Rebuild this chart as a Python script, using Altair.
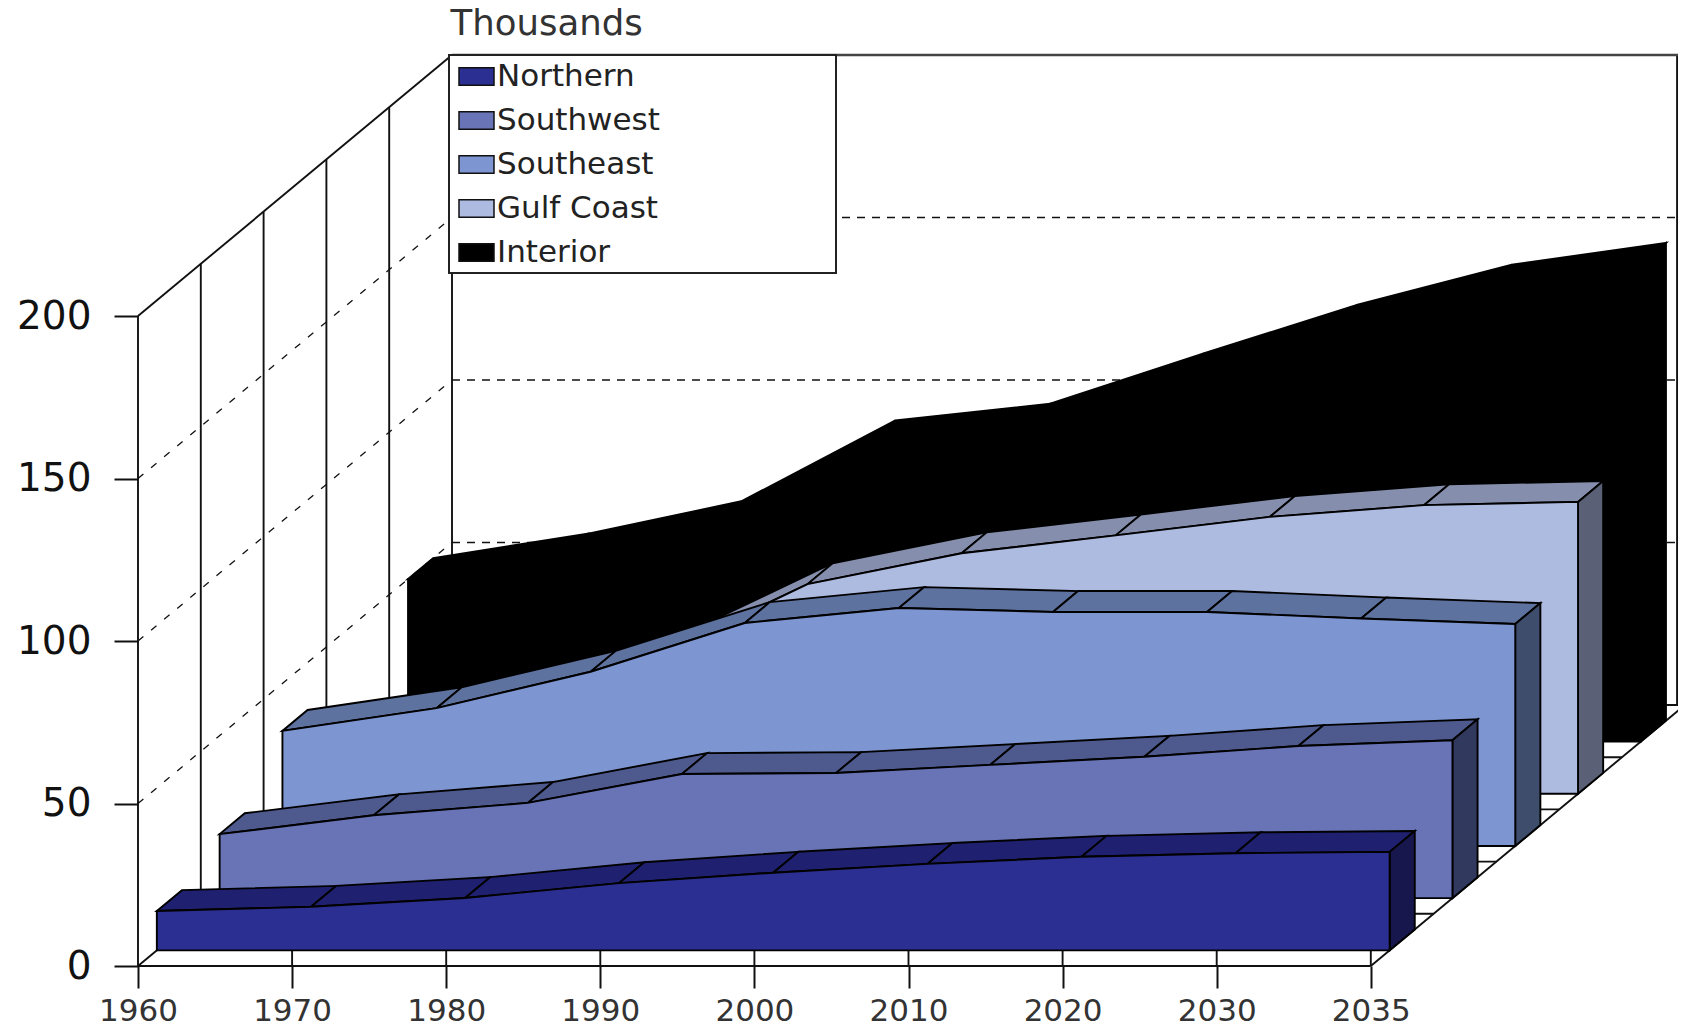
import altair as alt
import pandas as pd

YEARS = ["1960", "1970", "1980", "1990", "2000", "2010", "2020", "2030", "2035"]
NORTHERN = [12.1, 13.4, 16.1, 20.7, 23.9, 26.6, 28.8, 29.9, 30.3]
SOUTHWEST = [19.7, 25.5, 29.3, 38.2, 38.5, 41.0, 43.5, 46.8, 48.6]
SOUTHEAST = [35.4, 42.4, 53.6, 68.6, 73.2, 72.0, 72.0, 70.0, 68.3]
GULF_COAST = [22.0, 29.0, 41.9, 64.5, 74.0, 79.5, 85.2, 88.8, 89.8]
INTERIOR = [50.0, 57.5, 67.5, 92.4, 97.5, 113.0, 128.0, 140.3, 147.0]

SERIES = ["Northern", "Southwest", "Southeast", "Gulf Coast", "Interior"]
VALUES = [NORTHERN, SOUTHWEST, SOUTHEAST, GULF_COAST, INTERIOR]
FRONT = ["#2B2F91", "#6874B6", "#7D95D0", "#AEBBE0", "#000000"]
TOP = ["#1F2170", "#4E5A8E", "#5E729F", "#858FAD", "#000000"]
SIDE = ["#17174D", "#32395F", "#3E4D6C", "#5A6176", "#000000"]
Y_TICKS = [0, 50, 100, 150, 200]
GRID_VALUES = [50, 100, 150]

# oblique projection: one depth slot, in category units and in value units
DX = 62.8 / 154.1
DY = 52.2 / 3.25
N = len(YEARS) - 1
DEPTH = len(SERIES)
X_MIN, X_MAX = -0.8436, 9.9935
Y_MIN, Y_MAX = -19.38, 294.77


def project(cat, depth, value):
    return cat + depth * DX, value + depth * DY


# ---- polygons, back series first -------------------------------------------
rows = []


def polygon(name, key, corners):
    for pt, (c, d, v) in enumerate(corners):
        px, py = project(c, d, v)
        rows.append({"poly": name, "key": key, "pt": pt, "x": px, "y": py})


for k in reversed(range(DEPTH)):
    s, vals = SERIES[k], VALUES[k]
    d1, d2 = k + 0.3, k + 0.7
    for i in range(N):
        polygon(f"{s}-top-{i}", s + " top",
                [(i, d1, vals[i]), (i + 1, d1, vals[i + 1]),
                 (i + 1, d2, vals[i + 1]), (i, d2, vals[i])])
    polygon(f"{s}-side", s + " side",
            [(N, d1, 0), (N, d2, 0), (N, d2, vals[N]), (N, d1, vals[N])])
    polygon(f"{s}-front", s,
            [(0, d1, 0)] + [(i, d1, vals[i]) for i in range(N + 1)] + [(N, d1, 0)])
poly_df = pd.DataFrame(rows)

# ---- walls and floor ---------------------------------------------------------
solid, wall_dash, back_dash, frame = [], [], [], []


def seg(store, a, b):
    name = f"s{len(store)}"
    for pt, (c, d, v) in enumerate((a, b)):
        px, py = project(c, d, v)
        store.append({"seg": name, "pt": pt, "x": px, "y": py})


for d in range(1, DEPTH + 1):
    seg(solid, (0, d, 0), (0, d, 200))
    seg(solid, (0, d, 0), (N, d, 0))
seg(solid, (0, 0, 0), (0, 0, 200))
seg(solid, (0, 0, 200), (0, DEPTH, 200))
seg(solid, (0, 0, 0), (N, 0, 0))
seg(solid, (0, 0, 0), (0, DEPTH, 0))
seg(solid, (N, 0, 0), (N, DEPTH, 0))
for i in range(1, N + 1):
    seg(solid, (i, 0, 0), (i, 0, 5.2))
seg(frame, (0, DEPTH, 200), (N + 0.1, DEPTH, 200))
# right wall edge, held just inside the drawable width of the page
_, wall_bottom = project(N, DEPTH, 0)
_, wall_top = project(N, DEPTH, 200)
for pt, wy in enumerate((wall_bottom, wall_top)):
    solid.append({"seg": "right-wall", "pt": pt, "x": X_MAX - 0.006, "y": wy})
for v in GRID_VALUES:
    seg(wall_dash, (0, 0, v), (0, DEPTH, v))
    seg(back_dash, (0, DEPTH, v), (N, DEPTH, v))

X_SCALE = alt.Scale(domain=[X_MIN, X_MAX], nice=False, zero=False)
Y_SCALE = alt.Scale(domain=[Y_MIN, Y_MAX], nice=False, zero=False)
labels = "[" + ",".join(f"'{y}'" for y in YEARS) + "]"

x_axis = alt.Axis(values=list(range(N + 1)), labelExpr=labels + "[datum.value]",
                  offset=-63, tickSize=22, tickWidth=2, tickColor="#111",
                  domain=False, grid=False, title=None, labelFont="DejaVu Sans",
                  labelFontSize=31, labelColor="#333333", labelPadding=8,
                  labelOverlap=False, labelFlush=False)
y_axis = alt.Axis(values=Y_TICKS, offset=-130, tickSize=24, tickWidth=2, tickColor="#111",
                  domain=False, grid=False, labelFont="DejaVu Sans", labelFontSize=39,
                  labelColor="#111111", labelPadding=23, labelOverlap=False, labelFlush=False,
                  title="Thousands", titleAngle=0, titleX=312, titleY=15, titleAlign="left",
                  titleBaseline="middle", titleFont="DejaVu Sans", titleFontSize=35.5,
                  titleFontWeight="normal", titleColor="#333333")

X = alt.X("x:Q", scale=X_SCALE, axis=x_axis)
Y = alt.Y("y:Q", scale=Y_SCALE, axis=y_axis)

solid_layer = alt.Chart(pd.DataFrame(solid)).mark_line(color="#111111", strokeWidth=1.9).encode(
    x=X, y=Y, detail="seg:N", order="pt:Q")
frame_layer = alt.Chart(pd.DataFrame(frame)).mark_line(color="#444444", strokeWidth=2.6).encode(
    x=X, y=Y, detail="seg:N", order="pt:Q")
wall_dash_layer = alt.Chart(pd.DataFrame(wall_dash)).mark_line(
    color="#111111", strokeWidth=1.3, strokeDash=[7, 10]).encode(
    x=X, y=Y, detail="seg:N", order="pt:Q")
back_dash_layer = alt.Chart(pd.DataFrame(back_dash)).mark_line(
    color="#111111", strokeWidth=1.6, strokeDash=[8, 7]).encode(
    x=X, y=Y, detail="seg:N", order="pt:Q")

keys = SERIES + [s + " top" for s in SERIES] + [s + " side" for s in SERIES]
colors = FRONT + TOP + SIDE
poly_layer = alt.Chart(poly_df).mark_line(
    stroke="#000000", strokeWidth=1.9, interpolate="linear-closed", strokeJoin="miter").encode(
    x=X, y=Y, detail="poly:N", order="pt:Q",
    fill=alt.Fill("key:N", scale=alt.Scale(domain=keys, range=colors),
                  legend=alt.Legend(
                      values=SERIES, title=None, orient="none", legendX=442, legendY=42,
                      symbolType="M-1,-0.5H1V0.5H-1Z", symbolSize=1225,
                      symbolStrokeColor="#111111", symbolStrokeWidth=1.5,
                      labelFont="DejaVu Sans", labelFontSize=31, labelColor="#222222",
                      labelLimit=320, labelOffset=2, rowPadding=10, padding=8)))

# legend frame, in the same data units as the chart
box = pd.DataFrame({"x": [(449 - 138) / 154.1], "x2": [(836 - 138) / 154.1],
                    "y": [(966 - 55) / 3.25], "y2": [(966 - 273) / 3.25]})
box_layer = alt.Chart(box).mark_rect(fill="white", stroke="#222222", strokeWidth=2).encode(
    x=X, x2="x2:Q", y=Y, y2="y2:Q")

chart = alt.layer(solid_layer, frame_layer, wall_dash_layer, back_dash_layer,
                  poly_layer, box_layer).properties(
    width=1670, height=1021, padding=0, autosize=alt.AutoSizeParams(type="none"),
    background="white",
).configure_view(stroke=None)

chart.save("out.html", embed_options={"renderer": "svg", "actions": False})
